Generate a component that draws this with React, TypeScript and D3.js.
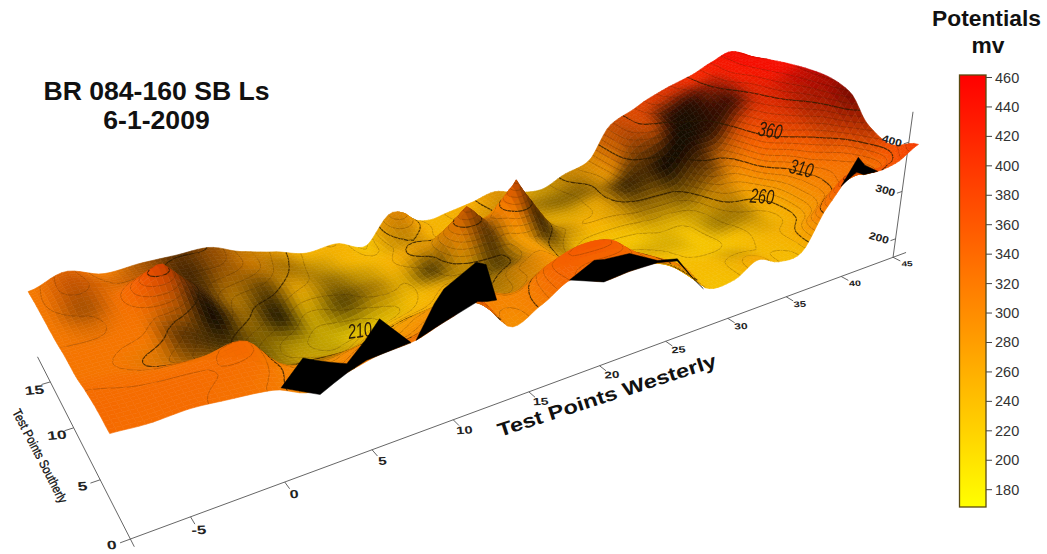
import React from "react";
import * as d3 from "d3";

// ---- axis readings used to calibrate the perspective [x, y, z, screenX, screenY]
const calib: number[][] = [
  [-5,0,160,190,518],[0,0,160,285,482.3],[5,0,160,371.7,450],[10,0,160,452.7,420.7],
  [25,0,160,666,342],[30,0,160,727,317],[35,0,160,786,295],[40,0,160,841,274],[45,0,160,892.7,255],
  [-8,0,160,128.5,538],[-8,5,160,100,482],[-8,10,160,75,432],[-8,15,160,51.7,386.7],[-8,18,160,39.3,361],
  [45,0,200,895.7,236.7],[45,0,300,902.7,193],[45,0,400,910.3,146.7],[45,0,460,915,118],
  [-8,0,320,110,433],[-8,16.5,300,27,288],[46,16.5,430,737,50],
];

// ---- data
const westerly = d3.range(-8, 47, 2);
const southerly = [0, 2, 4, 6, 8, 10, 12, 14, 16];
const potY0 = [334,330,332,326,318,295,307,319,323,341,354,291,313,341,319,321,320,296,236,235,259,240,243,321,372,360,365,390];
const potY2 = [335,332,332,330,325,300,290,300,290,300,320,305,305,340,355,350,310,280,238,238,240,240,248,265,300,328,323,369];
const potY4 = [330,328,325,325,332,270,262,260,268,280,290,300,270,285,290,280,258,245,235,228,228,235,245,250,292,320,340,390];
const potY6 = [322,320,305,290,275,240,232,225,240,250,255,270,260,280,285,250,240,235,230,228,228,238,250,258,300,345,375,442];
const potY8 = [322,322,320,300,265,240,225,215,212,225,240,250,245,255,275,255,238,228,228,232,232,240,275,285,355,385,410,456];
const potY10 = [318,318,325,318,285,262,245,225,235,245,240,250,270,265,275,265,250,250,250,255,255,260,305,315,375,405,430,455];
const potY12 = [318,322,325,325,295,270,265,250,245,240,248,265,265,262,268,262,245,245,255,275,290,300,340,345,395,415,440,449];
const potY14 = [318,335,320,318,300,300,285,262,245,245,240,255,245,250,258,262,250,245,255,275,340,358,365,385,410,430,445,440];
const potY16 = [315,333,311,313,312,310,285,268,248,250,228,265,240,250,258,268,252,245,265,280,345,365,385,400,412,430,445,430];
const potential = [potY0,potY2,potY4,potY6,potY8,potY10,potY12,potY14,potY16];

const reliefY0 = [9,9,9,9,9,9,9,9,9,9,9,9,9,9,9,9,9,9,9,9,9,9,9,9,9,9,9,9];
const reliefY2 = [9,9,9,9,9,9,9,9,9,9,9,9,9,9,9,9,9,9,9,9,8,9,9,9,9,9,9,9];
const reliefY4 = [9,9,9,9,9,7,6,8,9,9,9,9,7,8,9,9,9,9,9,9,9,9,8,9,9,9,9,6];
const reliefY6 = [9,9,8,5,5,5,7,7,9,9,9,9,6,7,9,9,9,9,8,8,9,6,6,9,9,9,7,4];
const reliefY8 = [9,9,9,3,2,4,6,7,8,8,9,8,6,3,9,6,9,9,9,8,8,7,7,9,9,8,6,6];
const reliefY10 = [9,8,9,7,0,5,1,7,3,6,8,3,8,3,9,2,7,9,8,5,5,4,3,7,8,8,7,7];
const reliefY12 = [9,6,9,8,2,6,3,8,5,7,9,8,8,8,9,5,8,8,8,2,2,0,0,1,2,8,9,9];
const reliefY14 = [9,7,8,6,2,5,7,6,7,9,9,7,9,9,8,7,6,5,5,8,6,7,1,1,5,9,9,9];
const reliefY16 = [9,8,9,6,3,5,7,8,9,9,9,8,9,9,9,8,8,7,7,8,7,8,8,8,9,9,9,9];
const relief = [reliefY0,reliefY2,reliefY4,reliefY6,reliefY8,reliefY10,reliefY12,reliefY14,reliefY16];

// pointed anomalies that fall between grid nodes (same reading frame as the tables)
const spikeX = [-1.8, 17.2, 21, 14.8];
const spikeY = [11.5, 11, 11.5, 15.4];
const spikeRise = [52, 75, 90, 30];

// underside of the front edge (black): x, upper potential, lower potential
const undersideA = { x:[.4,1.7,2.4,3.2,4,5.1,6,7.7], top:[318,354,343,332,322,350,378,322], bot:[318,297,286,297,307,317,319,322] };
const undersideB = { x:[8,9.2,9.8,11.8,12.4,13], top:[323,375,394,422,413,347], bot:[323,334,339,355,350,347] };
const undersideC = { x:[17.8,19.5,20.2,22,24.1,25.6,27,27.8], top:[341,362,358,354,324,315,264,239], bot:[341,324,317,321,320,311,264,239] };
const undersideD = { x:[39,40.3,41,42.3], top:[353,401,381,360], bot:[353,372,362,360] };
const undersides = [undersideA, undersideB, undersideC, undersideD];

const xTicks = [-5,0,5,10,15,20,25,30,35,40,45];
const yTicks = [0,5,10,15];
const zTicks = [200,300,400];
const barTicks = d3.range(180, 461, 20);
const contourLabels = [
  { t:"360", px:770, py:132, r:10 },
  { t:"310", px:801, py:170, r:14 },
  { t:"260", px:762, py:198, r:5 },
  { t:"210", px:360, py:332, r:-8 },
];

// ---- projection
function solve(A:number[][],b:number[]){const n=b.length;const M=A.map((r,i)=>[...r,b[i]]);for(let c=0;c<n;c++){let p=c;for(let r=c+1;r<n;r++)if(Math.abs(M[r][c])>Math.abs(M[p][c]))p=r;[M[c],M[p]]=[M[p],M[c]];for(let r=0;r<n;r++){if(r===c)continue;const f=M[r][c]/M[c][c];for(let k=c;k<=n;k++)M[r][k]-=f*M[c][k];}}return M.map((r,i)=>r[n]/r[i]);}
function fit(){const rows:number[][]=[],rhs:number[]=[];for(const [x0,y0,z0,u,v] of calib){const x=x0/50,y=y0/20,z=z0/500;const U=u/1000,V=v/1000;rows.push([x,y,z,1,0,0,0,0,-U*x,-U*y,-U*z]);rhs.push(U);rows.push([0,0,0,0,x,y,z,1,-V*x,-V*y,-V*z]);rhs.push(V);}
 const n=11;const AtA=Array.from({length:n},()=>new Array(n).fill(0));const Atb=new Array(n).fill(0);rows.forEach((r,i)=>{for(let a=0;a<n;a++){Atb[a]+=r[a]*rhs[i];for(let c=0;c<n;c++)AtA[a][c]+=r[a]*r[c];}});return solve(AtA,Atb);}
const P=fit();
const depth=(x0:number,y0:number,z0:number)=>P[8]*x0/50+P[9]*y0/20+P[10]*z0/500+1;
const proj=(x0:number,y0:number,z0:number):[number,number]=>{const x=x0/50,y=y0/20,z=z0/500;const w=P[8]*x+P[9]*y+P[10]*z+1;return[1000*(P[0]*x+P[1]*y+P[2]*z+P[3])/w,1000*(P[4]*x+P[5]*y+P[6]*z+P[7])/w];};

// The tables in a bilinear frame spanned by the surface's four corners;
// this maps a true (x, y) to that reading frame.
const tToX = d3.scaleLinear().domain([0,.204,.4225,.6125,.78,.92,1]).range([-8,0,10,20,30,40,46]).clamp(true);
const fToY = d3.scaleLinear().domain([0,.15,.29,.41,.54,.66,.775,.89,1]).range(southerly).clamp(true);
function readingFrame(x:number,y:number):[number,number]{
  const [u,v]=proj(x,y,300);let t=(x+8)/54,f=y/16;
  for(let k=0;k<10;k++){
    const ru=112-82*f+t*(800-80*f)-u, rv=455-159*f+t*(-268+85*f)-v;
    const a=800-80*f,b=-82-80*t,c=-268+85*f,d=-159+85*t,det=a*d-b*c;
    t-=(d*ru-b*rv)/det; f-=(-c*ru+a*rv)/det;
  }
  return [tToX(t),fToY(f)];
}

// ---- surface
const colour = d3.scaleLinear<string>().domain([168,462]).range(["#ffff00","#ff0000"]).clamp(true);
const cr=(a:number,b:number,c:number,d:number,t:number,s=0.8)=>{const m1=s*(c-a)/2,m2=s*(d-b)/2;const t2=t*t,t3=t2*t;return (2*t3-3*t2+1)*b+(t3-2*t2+t)*m1+(-2*t3+3*t2)*c+(t3-t2)*m2;};
function sample(M:number[][],i:number,j:number,s=0.8){
  const nc=M[0].length,nr=M.length;
  i=Math.max(0,Math.min(nc-1,i));j=Math.max(0,Math.min(nr-1,j));
  const ci=Math.min(Math.floor(i),nc-2),cj=Math.min(Math.floor(j),nr-2);
  const ti=i-ci,tj=j-cj;
  const rowv=(r:number)=>{const R=M[Math.max(0,Math.min(nr-1,r))];return cr(R[Math.max(0,ci-1)],R[ci],R[ci+1],R[Math.min(nc-1,ci+2)],ti,s);};
  return cr(rowv(cj-1),rowv(cj),rowv(cj+1),rowv(cj+2),tj,s);
}
const SUB=6;
const nI=(westerly.length-1)*SUB, nJ=(southerly.length-1)*SUB;
const gridZ:number[][]=[],gridS:number[][]=[],gridX:number[]=[],gridY:number[]=[];
for(let i=0;i<=nI;i++)gridX[i]=westerly[0]+(i/SUB)*2;
for(let j=0;j<=nJ;j++)gridY[j]=(j/SUB)*2;
for(let j=0;j<=nJ;j++){gridZ[j]=[];gridS[j]=[];for(let i=0;i<=nI;i++){
  const [xa,ya]=readingFrame(gridX[i],gridY[j]);
  const ia=(xa+8)/2,ja=ya/2;
  let z=sample(potential,ia,ja);
  spikeX.forEach((sx,k)=>{const r=Math.hypot(xa-sx,(ya-spikeY[k])*1.1)/2.6;if(r<1)z+=spikeRise[k]*(1-r)*(1-r*0.3);});
  gridZ[j][i]=z;
  gridS[j][i]=Math.max(0,Math.min(9,sample(relief,ia,ja,0.6)));
}}
type Cell={key:number,pts:string,fill:string,thin:string,thick:string};
const cells:Cell[]=[];
const thinLevels=d3.range(170,470,10);
function crossings(q:{x:number,y:number,z:number}[],lv:number){
  const out:[number,number][]=[];
  for(let a=0;a<4;a++){const A=q[a],B=q[(a+1)%4];if((A.z<lv)!==(B.z<lv)){const t=(lv-A.z)/(B.z-A.z);out.push(proj(A.x+(B.x-A.x)*t,A.y+(B.y-A.y)*t,lv));}}
  return out;
}
for(let j=0;j<nJ;j++)for(let i=0;i<nI;i++){
  const q=[[i,j],[i+1,j],[i+1,j+1],[i,j+1]].map(([a,b])=>({x:gridX[a],y:gridY[b],z:gridZ[b][a],s:gridS[b][a]}));
  const mz=d3.mean(q,d=>d.z)!,ms=d3.mean(q,d=>d.s)!;
  const c=d3.rgb(colour(mz));const b=0.09+0.87*ms/9;
  const fill=d3.rgb(c.r*b,c.g*b,c.b*b).formatHex();
  const pts=q.map(d=>proj(d.x,d.y,d.z).map(n=>n.toFixed(1)).join(",")).join(" ");
  let thin="",thick="";
  for(const lv of thinLevels){const cr2=crossings(q,lv);if(cr2.length>=2){const s=`M${cr2[0][0].toFixed(1)},${cr2[0][1].toFixed(1)}L${cr2[1][0].toFixed(1)},${cr2[1][1].toFixed(1)}`;if((lv-210)%50===0)thick+=s;else thin+=s;}}
  cells.push({key:d3.mean(q,d=>depth(d.x,d.y,d.z))!,pts,fill,thin,thick});
}
cells.sort((a,b)=>b.key-a.key);

const line2=d3.line();
const F="'Liberation Sans', Arial, sans-serif";
const barY=d3.scaleLinear().domain([460,180]).range([77.5,489.7]);

export default function App(){
  const ax=(a:[number,number],b:[number,number],k:string,w=0.9)=><line key={k} x1={a[0]} y1={a[1]} x2={b[0]} y2={b[1]} stroke="#555" strokeWidth={w}/>;
  const Z0=160;
  return <svg width={1047} height={554} style={{position:"absolute",left:0,top:0,background:"#fff"}} fontFamily={F}>
    <defs>
      <linearGradient id="bar" x1="0" y1="1" x2="0" y2="0"><stop offset="0" stopColor="#ffff00"/><stop offset="1" stopColor="#ff0000"/></linearGradient>
      <filter id="soft" x="-2%" y="-2%" width="104%" height="104%"><feGaussianBlur stdDeviation="0.7"/></filter>
    </defs>
    {/* titles */}
    <text x={156.5} y={100} textAnchor="middle" fontSize={26.6} fontWeight="bold" fill="#111">BR 084-160 SB Ls</text>
    <text x={156.5} y={129} textAnchor="middle" fontSize={26.6} fontWeight="bold" fill="#111">6-1-2009</text>
    {/* axes */}
    {ax(proj(-8,0,Z0),proj(46.3,0,Z0),"xa")}
    {ax(proj(-8,-0.6,Z0),proj(-8,18,Z0),"ya")}
    {ax(proj(45,0,Z0),proj(45,0,460),"za")}
    {xTicks.map(t=>ax(proj(t,0,Z0),proj(t,-0.6,Z0),"xt"+t))}
    {yTicks.map(t=>ax(proj(-8,t,Z0),proj(-8.5,t,Z0),"yt"+t))}
    {zTicks.map(t=>ax(proj(45,0,t),proj(44.5,0,t),"zt"+t))}
    {xTicks.map(t=>{const [u,v]=proj(t,-1.15,Z0);const s=d3.scaleLinear().domain([-5,45]).range([13.5,8])(t);
      return <text key={t} transform={`translate(${u},${v}) scale(1.25,0.9) rotate(-4)`} textAnchor="middle" dominantBaseline="middle" fontSize={s} fontWeight="600" fill="#222">{t}</text>})}
    {yTicks.map(t=>{const [u,v]=proj(-8.9,t,Z0);
      return <text key={t} transform={`translate(${u},${v+t*0.3}) scale(1.3,0.9) rotate(-6)`} textAnchor="middle" dominantBaseline="middle" fontSize={13.5} fontWeight="600" fill="#222">{t}</text>})}
    <text transform="translate(500,437) rotate(-18)" x={0} y={0} fontSize={19} fontWeight="bold" fill="#111" textLength={229} lengthAdjust="spacingAndGlyphs">Test Points Westerly</text>
    <text transform="translate(12,412) rotate(62.5)" x={0} y={0} fontSize={13} fill="#111" stroke="#111" strokeWidth={0.3} textLength={104} lengthAdjust="spacingAndGlyphs">Test Points Southerly</text>
    {/* surface */}
    <g filter="url(#soft)">
      {cells.map((c,i)=><React.Fragment key={i}>
        <polygon points={c.pts} fill={c.fill} stroke={c.fill} strokeWidth={0.6}/>
        {c.thin&&<path d={c.thin} stroke="#3a1e00" strokeOpacity={0.38} strokeWidth={0.7} fill="none"/>}
        {c.thick&&<path d={c.thick} stroke="#2a1a08" strokeOpacity={0.8} strokeWidth={1.2} fill="none"/>}
      </React.Fragment>)}
      {contourLabels.map(l=><text key={l.t} transform={`translate(${l.px},${l.py}) rotate(${l.r}) scale(0.9,1.3)`} textAnchor="middle" dominantBaseline="middle" fontSize={16} fontStyle="italic" fill="#2a1a08">{l.t}</text>)}
      {undersides.map((s,i)=>{const top=s.x.map((x,k)=>proj(x,0,s.top[k]));const bot=s.x.map((x,k)=>proj(x,0,s.bot[k])).reverse();
        return <path key={i} d={line2([...top,...bot])+"Z"} fill="#000" stroke="#000" strokeWidth={0.5}/>})}
    </g>
    {zTicks.map(t=>{const [u,v]=proj(44.3,0,t);
      return <text key={t} transform={`translate(${u},${v}) rotate(16) scale(1.1,0.95)`} textAnchor="end" dominantBaseline="middle" fontSize={11} fontWeight="600" fill="#222">{t}</text>})}
    {/* colour bar */}
    <rect x={959.5} y={75} width={26.5} height={432} fill="url(#bar)" stroke="#5a4a10" strokeWidth={1.3}/>
    {barTicks.map(t=><g key={t}>
      <line x1={986} x2={992} y1={barY(t)} y2={barY(t)} stroke="#444" strokeWidth={1}/>
      <text x={995} y={barY(t)+5} fontSize={14.5} fill="#333">{t}</text>
    </g>)}
    <text x={986.5} y={26} textAnchor="middle" fontSize={22.8} fontWeight="bold" fill="#111">Potentials</text>
    <text x={988} y={53} textAnchor="middle" fontSize={22.8} fontWeight="bold" fill="#111">mv</text>
  </svg>;
}
